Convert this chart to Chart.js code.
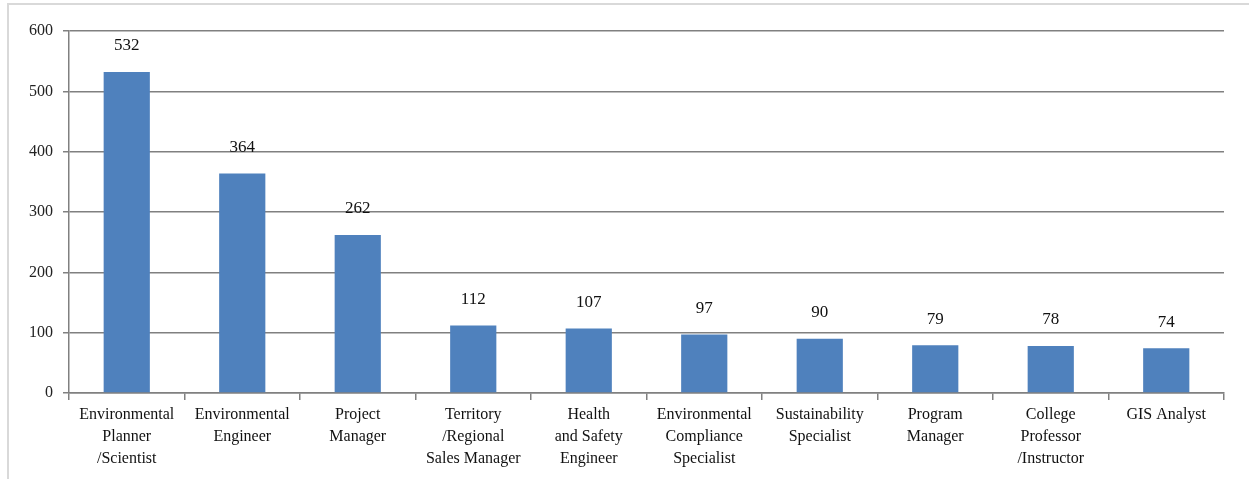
<!DOCTYPE html>
<html>
<head>
    <meta charset="utf-8">
    <title>Top job titles</title>
    <script src="https://cdn.jsdelivr.net/npm/chart.js"></script>
    <style>
        body { margin: 0; background: #fff; }
        #wrap { position: relative; width: 1249px; height: 479px; }
        #frame { position: absolute; left: 7px; top: 3px; right: 0; bottom: 0; border-top: 2px solid #d9d9d9; border-left: 2px solid #d9d9d9; }
        #myChart { position: absolute; left: 0; top: 0; }
    </style>
</head>
<body>
    <div id="wrap">
        <div id="frame"></div>
        <canvas id="myChart" width="1249" height="479"></canvas>
    </div>
    <script>
    // job titles, one array per wrapped label
    const labels = [
        ['Environmental', 'Planner', '/Scientist'],
        ['Environmental', 'Engineer'],
        ['Project', 'Manager'],
        ['Territory', '/Regional', 'Sales Manager'],
        ['Health', 'and Safety', 'Engineer'],
        ['Environmental', 'Compliance', 'Specialist'],
        ['Sustainability', 'Specialist'],
        ['Program', 'Manager'],
        ['College', 'Professor', '/Instructor'],
        ['GIS Analyst']
    ];
    const counts = [532, 364, 262, 112, 107, 97, 90, 79, 78, 74];
    const yTicks = [0, 100, 200, 300, 400, 500, 600];

    const serif = '"Liberation Serif", "Times New Roman", serif';

    // draws the number above each bar
    const valueLabels = {
        id: 'valueLabels',
        afterDatasetsDraw(chart) {
            const ctx = chart.ctx;
            const meta = chart.getDatasetMeta(0);
            ctx.save();
            ctx.font = '17px ' + serif;
            ctx.fillStyle = '#111';
            ctx.textAlign = 'center';
            ctx.textBaseline = 'middle';
            meta.data.forEach((bar, i) => {
                ctx.fillText(counts[i], bar.x, bar.y - 26);
            });
            ctx.restore();
        }
    };

    const ctx = document.getElementById('myChart').getContext('2d');
    const chart = new Chart(ctx, {
        type: 'bar',
        data: {
            labels: labels,
            datasets: [{
                data: counts,
                backgroundColor: '#4f81bd',
                categoryPercentage: 1.0,
                barPercentage: 0.4
            }]
        },
        options: {
            responsive: false,
            animation: false,
            layout: { padding: { top: 31, right: 25, left: 0, bottom: 0 } },
            plugins: {
                legend: { display: false },
                tooltip: { enabled: false }
            },
            scales: {
                x: {
                    grid: { drawOnChartArea: false, color: '#808080', lineWidth: 1.5, tickLength: 7 },
                    border: { color: '#808080', width: 1.5 },
                    ticks: {
                        color: '#111',
                        font: { family: serif, size: 16, lineHeight: 1.37 },
                        maxRotation: 0,
                        autoSkip: false,
                        padding: 4
                    },
                    afterFit(scale) { scale.height = 479 - 393; }
                },
                y: {
                    min: 0,
                    max: 600,
                    afterBuildTicks(scale) { scale.ticks = yTicks.map(v => ({ value: v })); },
                    grid: { color: '#808080', lineWidth: 1.5, tickLength: 6 },
                    border: { color: '#808080', width: 1.5 },
                    ticks: {
                        color: '#222',
                        font: { family: serif, size: 16 },
                        padding: 10
                    },
                    afterFit(scale) { scale.width = 69; }
                }
            }
        },
        plugins: [valueLabels]
    });
    </script>
</body>
</html>
